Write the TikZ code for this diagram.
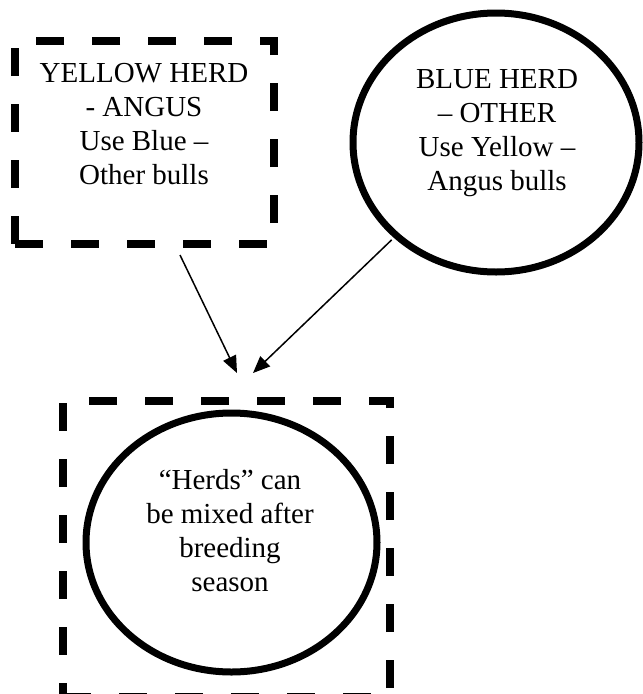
\documentclass[tikz,border=0pt]{standalone}
\usepackage{fontspec}
\setmainfont{Liberation Serif}
\usetikzlibrary{shapes.geometric,arrows.meta}

\begin{document}
\begin{tikzpicture}[x=1pt, y=-1pt,
	dbox/.style={draw, line width=8pt, dash pattern=on 28pt off 28pt, minimum width=#1},
	ring/.style={draw, ellipse, line width=7pt},
	t/.style={align=center, font=\fontsize{29}{34}\selectfont},
	>={Triangle[length=17pt, width=14pt]}]
	\useasboundingbox (0,0) rectangle (643,694);

	% the two herds
	\node[dbox=259pt, minimum height=203pt] (yellow) at (144.5,142.5) {};
	\node[t] (yellowtxt) at (144,124) {YELLOW HERD\\- ANGUS\\Use Blue –\\Other bulls};

	\node[ring, minimum width=286pt, minimum height=259pt] (blue) at (496,142.5) {};
	\node[t] (bluetxt) at (497,133) {BLUE HERD\\– OTHER\\Use Yellow –\\Angus bulls};

	% after the season
	\node[dbox=327pt, minimum height=296pt] (mixbox) at (226.5,549) {};
	\node[ring, minimum width=291pt, minimum height=259pt] (mix) at (231.5,542.5) {};
	\node[t] (mixtxt) at (230,531) {“Herds” can\\be mixed after\\breeding\\season};

	\draw[line width=1.5pt, ->] ([xshift=35.5pt, yshift=-7pt]yellow.south) -- ([xshift=10.5pt, yshift=24pt]mixbox.north);
	\draw[line width=1.5pt, ->, shorten <=3pt] (blue.223) -- ([xshift=26.5pt, yshift=24pt]mixbox.north);
\end{tikzpicture}
\end{document}
